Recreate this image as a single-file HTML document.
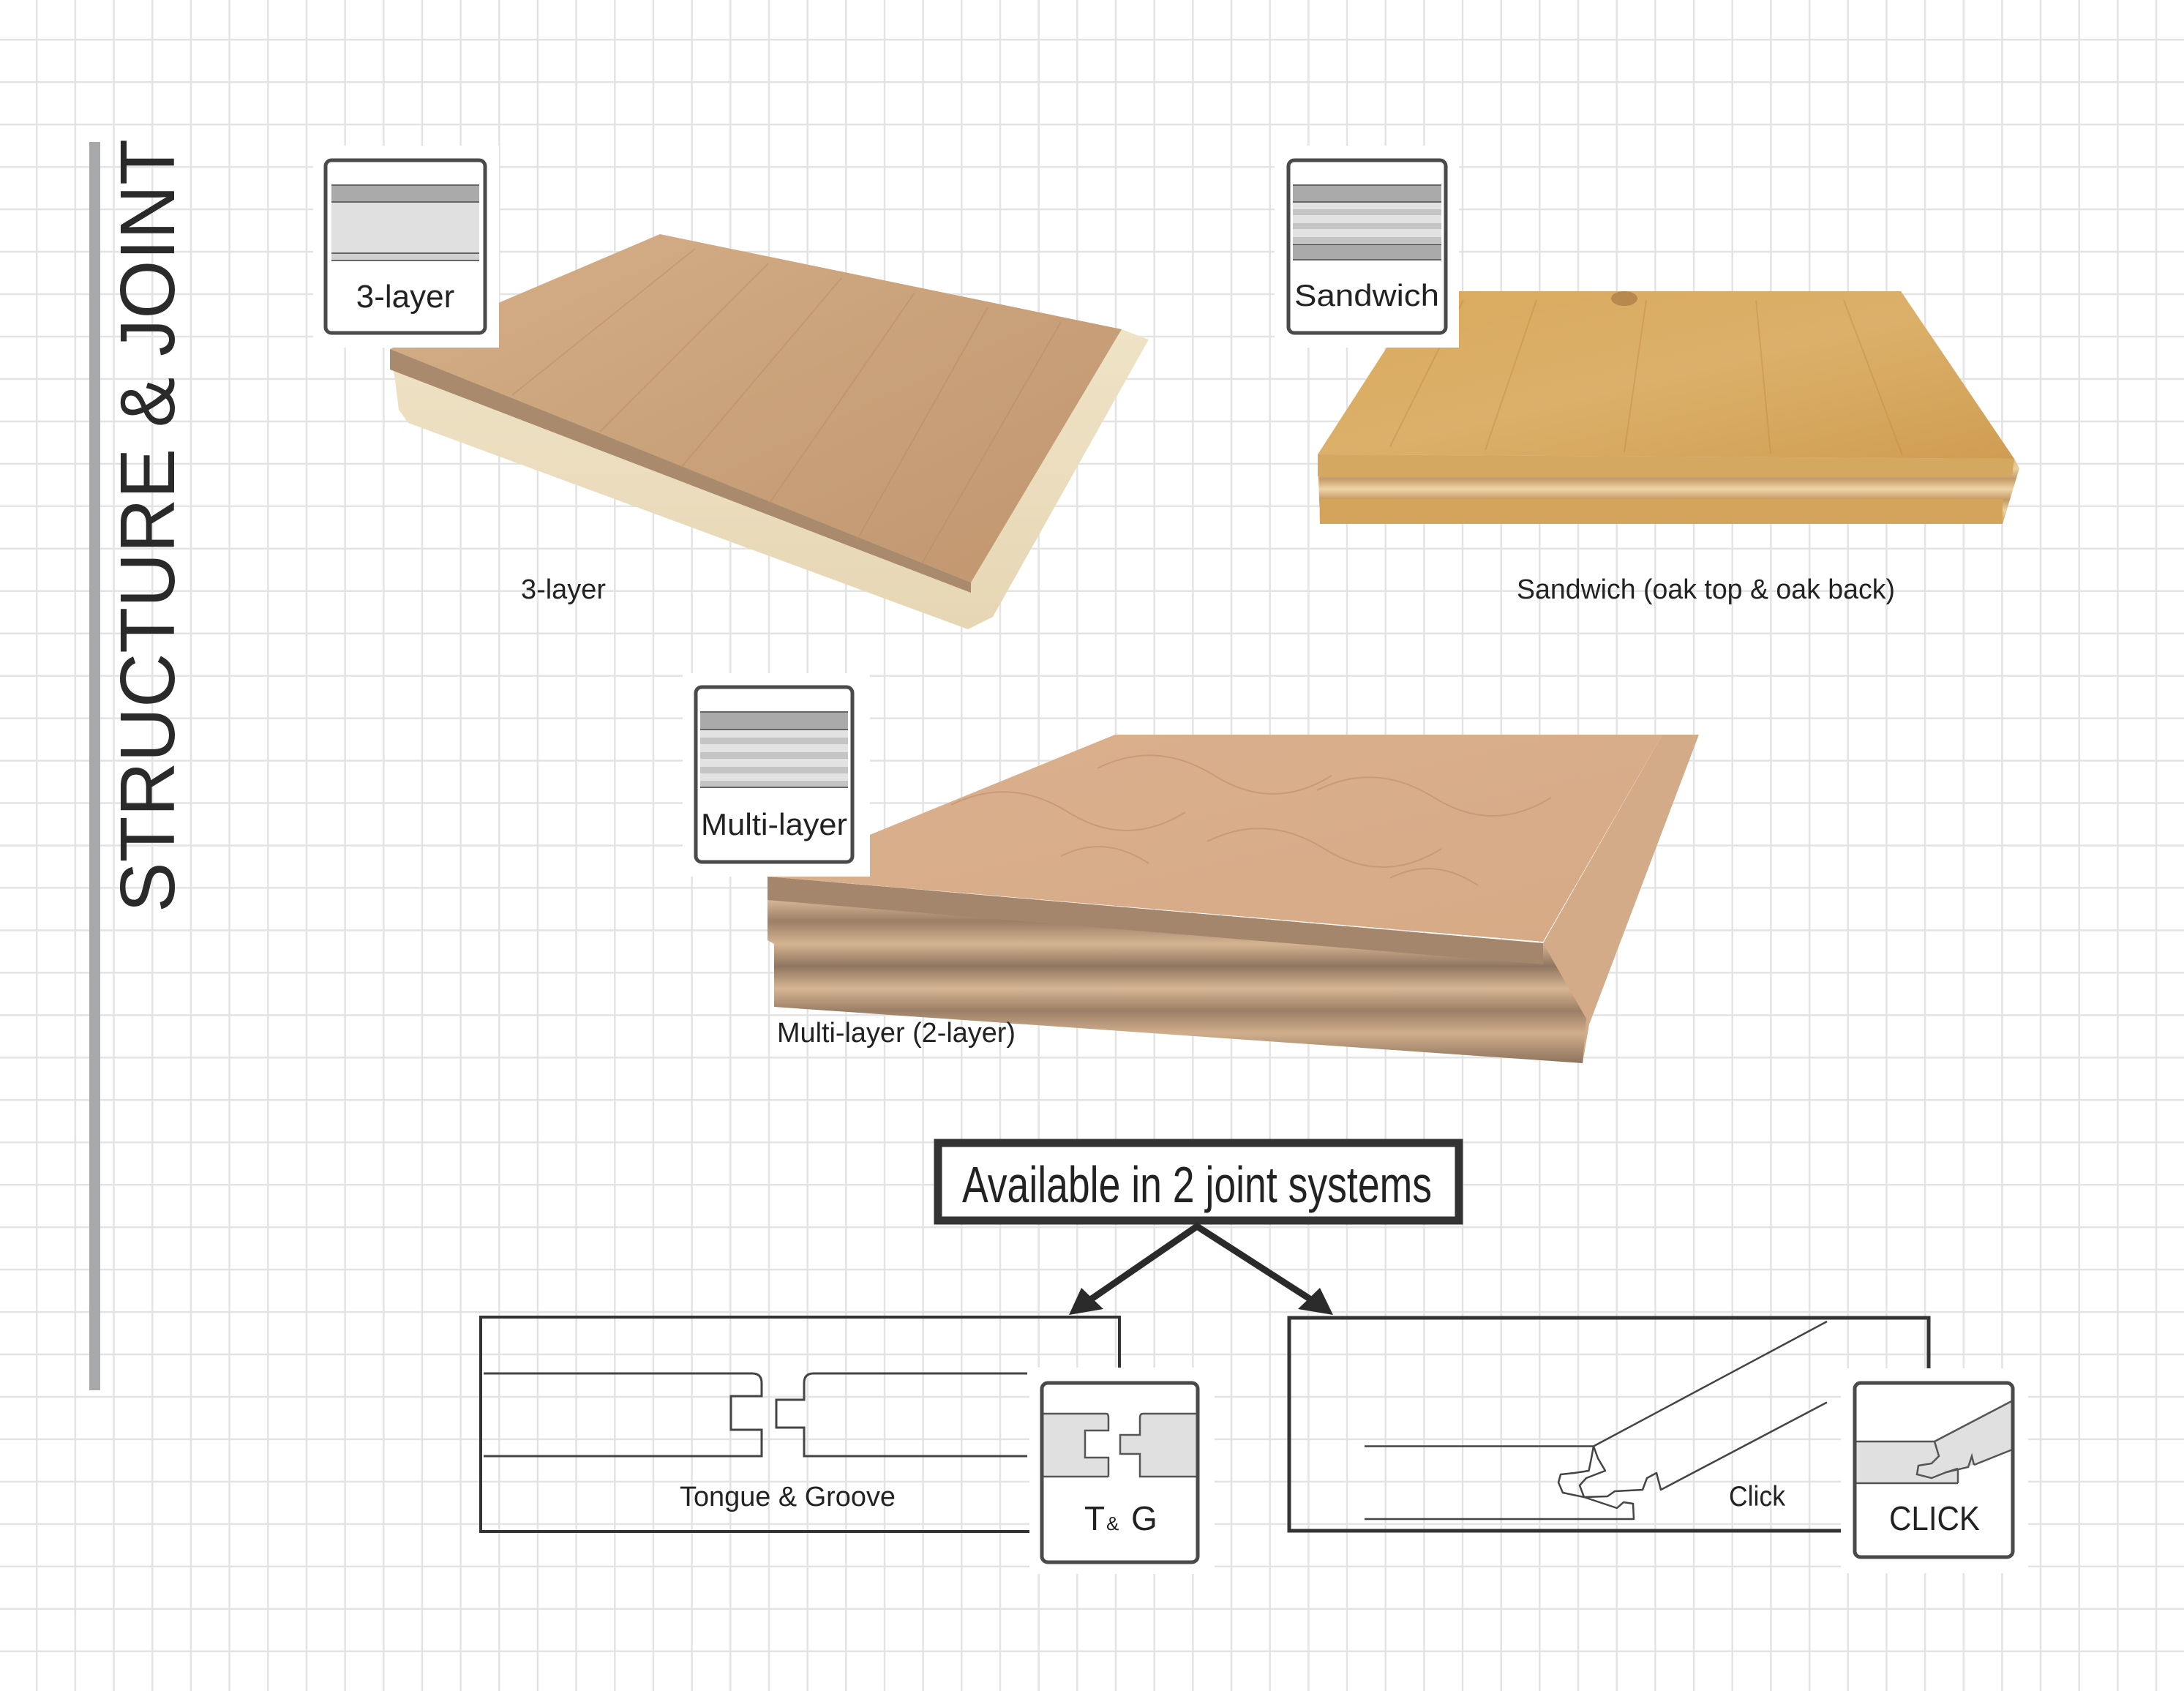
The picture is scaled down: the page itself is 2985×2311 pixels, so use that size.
<!DOCTYPE html>
<html><head><meta charset="utf-8"><style>
html,body{margin:0;padding:0;background:#fff;}
svg{display:block;}
text{font-family:"Liberation Sans",sans-serif;}
</style></head><body>
<svg width="2985" height="2311" viewBox="0 0 2985 2311" xmlns="http://www.w3.org/2000/svg">
<defs>
<pattern id="grid" patternUnits="userSpaceOnUse" x="49" y="53" width="52.67" height="57.96">
<rect x="0" y="0" width="2.5" height="57.96" fill="#e3e3e3"/>
<rect x="0" y="0" width="52.67" height="2.5" fill="#e3e3e3"/>
</pattern>
<linearGradient id="oak1" x1="0" y1="0" x2="1" y2="1">
<stop offset="0" stop-color="#d6b08a"/><stop offset="0.5" stop-color="#c9a17a"/><stop offset="1" stop-color="#c19670"/></linearGradient>
<linearGradient id="pine" x1="0" y1="0" x2="0" y2="1">
<stop offset="0" stop-color="#efe3c6"/><stop offset="1" stop-color="#e6d6b4"/></linearGradient>
<linearGradient id="gold" x1="0" y1="0" x2="1" y2="1">
<stop offset="0" stop-color="#d9a95e"/><stop offset="0.5" stop-color="#dcb06a"/><stop offset="1" stop-color="#cf9d52"/></linearGradient>
<linearGradient id="multi" x1="0" y1="0" x2="1" y2="1">
<stop offset="0" stop-color="#dab08e"/><stop offset="1" stop-color="#d7aa86"/></linearGradient>
<linearGradient id="ply" x1="0" y1="0" x2="0" y2="1">
<stop offset="0" stop-color="#b08c6c"/><stop offset="0.12" stop-color="#d9b896"/><stop offset="0.24" stop-color="#9b7f66"/><stop offset="0.36" stop-color="#d4b390"/><stop offset="0.48" stop-color="#8f7660"/><stop offset="0.6" stop-color="#d6b592"/><stop offset="0.72" stop-color="#9a7e66"/><stop offset="0.84" stop-color="#d0ae8c"/><stop offset="1" stop-color="#8d735c"/></linearGradient>
<linearGradient id="sply" x1="0" y1="0" x2="0" y2="1">
<stop offset="0" stop-color="#d9ae6e"/><stop offset="0.2" stop-color="#eccf9f"/><stop offset="0.35" stop-color="#c49a68"/><stop offset="0.5" stop-color="#efd4a6"/><stop offset="0.65" stop-color="#c39a66"/><stop offset="0.8" stop-color="#ecd0a0"/><stop offset="1" stop-color="#d2a664"/></linearGradient>
</defs>
<rect width="2985" height="2311" fill="#fff"/>
<rect width="2985" height="2311" fill="url(#grid)"/>

<!-- title bar -->
<rect x="122" y="194" width="15" height="1706" fill="#a7a8aa"/>
<text transform="translate(238,1247) rotate(-90)" font-size="106" fill="#2a2a2a" textLength="1057" lengthAdjust="spacingAndGlyphs">STRUCTURE &amp; JOINT</text>

<!-- 3-layer board -->
<polygon points="533,480 1533,450 1570,464 1357,843 1323,860 558,578 545,560 540,520" fill="url(#pine)"/>
<polygon points="902,320 1533,450 1327,796 533,477" fill="url(#oak1)"/>
<polygon points="533,477 1327,796 1327,810 533,505" fill="#a98a6c"/>
<g stroke="#b88e66" stroke-width="2" opacity="0.5">
<line x1="950" y1="340" x2="700" y2="540"/><line x1="1050" y1="360" x2="820" y2="590"/><line x1="1150" y1="380" x2="930" y2="640"/><line x1="1250" y1="400" x2="1050" y2="690"/><line x1="1350" y1="420" x2="1170" y2="740"/><line x1="1450" y1="440" x2="1260" y2="770"/></g>

<!-- sandwich board -->
<polygon points="1801,621 2753,627 2760,640 2737,716 1804,716" fill="url(#sply)"/>
<polygon points="1801,621 2753,627 2750,651 1801,651" fill="#d5a862"/>
<polygon points="1804,682 2737,682 2737,716 1804,716" fill="#d4a35c"/>
<polygon points="1945,398 2598,398 2753,627 1801,621" fill="url(#gold)"/>
<g stroke="#c28d45" stroke-width="2" opacity="0.45">
<line x1="2000" y1="410" x2="1900" y2="610"/><line x1="2100" y1="410" x2="2030" y2="615"/><line x1="2250" y1="410" x2="2220" y2="618"/><line x1="2400" y1="410" x2="2420" y2="620"/><line x1="2520" y1="410" x2="2600" y2="622"/></g>
<ellipse cx="2220" cy="408" rx="18" ry="10" fill="#a07040" opacity="0.6"/>

<!-- multi-layer board -->
<polygon points="2272,1004 2322,1004 2172,1400 2163,1453 2109,1289" fill="#d4ab88"/>
<polygon points="1049,1198 2109,1289 2168,1392 2163,1453 1058,1376 1058,1290 1049,1285" fill="url(#ply)"/>
<polygon points="1049,1198 2109,1289 2109,1318 1049,1230" fill="#a4866c"/>
<polygon points="1524,1004 2272,1004 2109,1287 1049,1198" fill="url(#multi)"/>
<g stroke="#b88a66" stroke-width="2" fill="none" opacity="0.5">
<path d="M1300,1100 q80,-40 160,10 t160,0"/><path d="M1500,1050 q80,-40 160,10 t160,0"/><path d="M1650,1150 q80,-40 160,10 t160,0"/><path d="M1800,1080 q80,-40 160,10 t160,0"/><path d="M1900,1200 q60,-30 120,10"/><path d="M1450,1170 q60,-30 120,10"/></g>

<!-- icon white areas -->
<rect x="428" y="199" width="254" height="276" fill="#fff"/>
<rect x="1742" y="199" width="252" height="276" fill="#fff"/>
<rect x="933" y="920" width="256" height="278" fill="#fff"/>

<!-- 3-layer icon -->
<g>
<rect x="453" y="253" width="202" height="23" fill="#aaa"/>
<rect x="453" y="276" width="202" height="70" fill="#e0e0e0"/>
<rect x="453" y="346" width="202" height="10" fill="#d0d0d0"/>
<g stroke="#666" stroke-width="2"><line x1="453" y1="253" x2="655" y2="253"/><line x1="453" y1="276" x2="655" y2="276"/><line x1="453" y1="346" x2="655" y2="346"/><line x1="453" y1="356" x2="655" y2="356"/></g>
<rect x="445" y="219" width="218" height="236" rx="8" fill="none" stroke="#4a4a4a" stroke-width="5"/>
<text x="554" y="420" font-size="44" text-anchor="middle" fill="#222">3-layer</text>
</g>

<!-- sandwich icon -->
<g>
<rect x="1767" y="253" width="203" height="23" fill="#aaa"/>
<rect x="1767" y="276" width="203" height="58" fill="#e2e2e2"/>
<rect x="1767" y="286" width="203" height="8" fill="#c4c4c4"/>
<rect x="1767" y="305" width="203" height="8" fill="#c4c4c4"/>
<rect x="1767" y="324" width="203" height="8" fill="#c4c4c4"/>
<rect x="1767" y="334" width="203" height="21" fill="#aaa"/>
<g stroke="#666" stroke-width="2"><line x1="1767" y1="253" x2="1970" y2="253"/><line x1="1767" y1="276" x2="1970" y2="276"/><line x1="1767" y1="334" x2="1970" y2="334"/><line x1="1767" y1="355" x2="1970" y2="355"/></g>
<rect x="1761" y="219" width="215" height="236" rx="8" fill="none" stroke="#4a4a4a" stroke-width="5"/>
<text x="1868" y="418" font-size="42" text-anchor="middle" fill="#222" textLength="198" lengthAdjust="spacingAndGlyphs">Sandwich</text>
</g>

<!-- multi-layer icon -->
<g>
<rect x="957" y="973" width="202" height="24" fill="#aaa"/>
<rect x="957" y="997" width="202" height="79" fill="#e2e2e2"/>
<rect x="957" y="1008" width="202" height="9" fill="#c4c4c4"/>
<rect x="957" y="1028" width="202" height="9" fill="#c4c4c4"/>
<rect x="957" y="1048" width="202" height="9" fill="#c4c4c4"/>
<rect x="957" y="1067" width="202" height="9" fill="#c4c4c4"/>
<g stroke="#666" stroke-width="2"><line x1="957" y1="973" x2="1159" y2="973"/><line x1="957" y1="997" x2="1159" y2="997"/><line x1="957" y1="1076" x2="1159" y2="1076"/></g>
<rect x="951" y="939" width="214" height="239" rx="8" fill="none" stroke="#4a4a4a" stroke-width="5"/>
<text x="1058" y="1141" font-size="42" text-anchor="middle" fill="#222" textLength="200" lengthAdjust="spacingAndGlyphs">Multi-layer</text>
</g>

<!-- captions -->
<text x="712" y="818" font-size="38" fill="#222" textLength="116" lengthAdjust="spacingAndGlyphs">3-layer</text>
<text x="2073" y="818" font-size="38" fill="#222" textLength="517" lengthAdjust="spacingAndGlyphs">Sandwich (oak top &amp; oak back)</text>
<text x="1062" y="1424" font-size="38" fill="#222" textLength="326" lengthAdjust="spacingAndGlyphs">Multi-layer (2-layer)</text>

<!-- available box -->
<rect x="1282" y="1562" width="712" height="106" fill="#fff" stroke="#333" stroke-width="11"/>
<text x="1315" y="1643" font-size="70" fill="#222" textLength="642" lengthAdjust="spacingAndGlyphs">Available in 2 joint systems</text>

<!-- arrows -->
<g stroke="#2a2a2a" stroke-width="9" fill="none" stroke-linecap="round">
<line x1="1636" y1="1676" x2="1492" y2="1775"/>
<line x1="1636" y1="1676" x2="1790" y2="1775"/>
</g>
<polygon points="1461,1797 1478,1760 1508,1789" fill="#2a2a2a"/>
<polygon points="1822,1797 1774,1789 1804,1760" fill="#2a2a2a"/>

<!-- T&G box -->
<rect x="657" y="1800" width="873" height="293" fill="none" stroke="#333" stroke-width="4"/>
<g stroke="#444" stroke-width="3" fill="none">
<path d="M661,1877 H1028 Q1041,1877 1041,1890 V1908 H999 V1954 H1041 V1990 H661"/>
<path d="M1404,1877 H1112 Q1099,1877 1099,1890 V1913 H1061 V1951 H1099 V1990 H1404"/>
</g>
<text x="929" y="2058" font-size="38" fill="#222" textLength="295" lengthAdjust="spacingAndGlyphs">Tongue &amp; Groove</text>

<!-- Click box -->
<rect x="1762" y="1801" width="874" height="291" fill="none" stroke="#333" stroke-width="5"/>
<g stroke="#444" stroke-width="2.5" fill="none" stroke-linejoin="round">
<path d="M1865,1976.5 L2178,1976.5 L2175,1993 L2171.5,2010 L2152,2013 L2133,2015 L2130,2026 L2136,2040 L2165,2046 L2210,2061 L2219,2053 L2232,2055 L2233,2076 L1865,2076"/>
<path d="M2497,1806 L2178,1976.5 L2184,1993 L2194,2010 L2168,2020 L2159,2030 L2165,2046 L2197,2045 L2207,2038 L2245,2036 L2251,2020 L2264,2013 L2270,2036 L2497,1916.5"/>
</g>
<text x="2363" y="2058" font-size="39" fill="#222" textLength="77" lengthAdjust="spacingAndGlyphs">Click</text>

<!-- T&G icon -->
<rect x="1407" y="1869" width="253" height="282" fill="#fff"/>
<rect x="1424" y="1932" width="213" height="86" fill="#e0e0e0"/>
<path d="M1515,1932 V1955 H1483 V1992 H1515 V2018 H1558 V1987 H1531 V1961 H1558 V1932 Z" fill="#fff"/>
<g stroke="#555" stroke-width="2.5" fill="none">
<line x1="1424" y1="1932" x2="1512" y2="1932"/><line x1="1424" y1="2018" x2="1515" y2="2018"/>
<path d="M1512,1932 Q1515,1932 1515,1938 V1955 H1483 V1992 H1515 V2018"/>
<path d="M1637,1932 H1562 Q1558,1932 1558,1938 V1961 H1531 V1987 H1558 V2018 H1637"/>
</g>
<rect x="1424" y="1890" width="213" height="245" rx="8" fill="none" stroke="#4a4a4a" stroke-width="5"/>
<text x="1482" y="2091" font-size="46" fill="#222">T</text>
<text x="1512" y="2091" font-size="26" fill="#222">&amp;</text>
<text x="1546" y="2091" font-size="46" fill="#222">G</text>

<!-- CLICK icon -->
<rect x="2516" y="1870" width="256" height="280" fill="#fff"/>
<polygon points="2536,1970 2644,1970 2753,1913 2753,1980 2698,2002 2676,2007 2676,2027 2536,2027" fill="#e0e0e0"/>
<g stroke="#555" stroke-width="2.5" fill="none">
<line x1="2536" y1="1970" x2="2644" y2="1970"/><line x1="2644" y1="1970" x2="2753" y2="1913"/>
<line x1="2536" y1="2027" x2="2676" y2="2027"/><line x1="2676" y1="2027" x2="2676" y2="2007"/>
<path d="M2644,1970 L2650,1990 L2640,2000 L2622,2003 L2620,2015 L2640,2020 L2660,2012 L2676,2007"/>
<line x1="2698" y1="2002" x2="2753" y2="1980"/>
<path d="M2660,2012 L2690,2005 L2695,1990 L2698,2002"/>
</g>
<rect x="2535" y="1890" width="216" height="238" rx="8" fill="none" stroke="#4a4a4a" stroke-width="5"/>
<text x="2644" y="2091" font-size="46" text-anchor="middle" fill="#222" textLength="124" lengthAdjust="spacingAndGlyphs">CLICK</text>
</svg>
</body></html>
